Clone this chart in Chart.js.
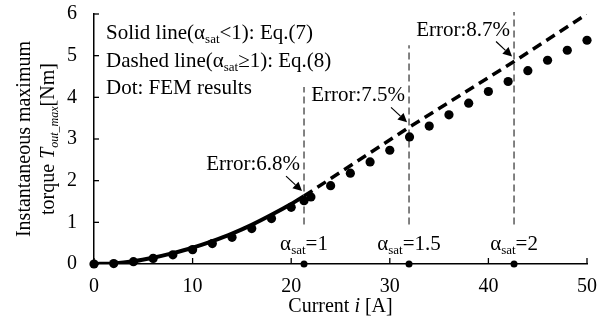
<!DOCTYPE html>
<html>
<head>
<meta charset="utf-8">
<script src="https://cdn.jsdelivr.net/npm/chart.js@4.4.0/dist/chart.umd.min.js"></script>
<style>
  html, body { margin: 0; padding: 0; background: #fff; }
  canvas { display: block; }
</style>
</head>
<body>
<canvas id="c" width="608" height="327"></canvas>
<script>
// FEM results: instantaneous maximum torque vs current
const femCurrent = [0, 2, 4, 6, 8, 10, 12, 14, 16, 18, 20, 21.3, 22, 24, 26, 28, 30, 32, 34, 36, 38, 40, 42, 44, 46, 48, 50];
const femTorque  = [0, 0.01, 0.055, 0.135, 0.22, 0.345, 0.49, 0.64, 0.85, 1.09, 1.36, 1.52, 1.61, 1.88, 2.18, 2.45, 2.73, 3.05, 3.31, 3.58, 3.86, 4.14, 4.38, 4.64, 4.89, 5.13, 5.37];

// Eq.(7), valid below saturation (alpha_sat < 1)
const eq7Current = [0, 2, 4, 6, 8, 10, 12, 14, 16, 18, 20, 21.3];
const eq7Torque  = [0, 0.015, 0.065, 0.15, 0.26, 0.39, 0.55, 0.73, 0.94, 1.18, 1.44, 1.63];

// Eq.(8), valid in saturation (alpha_sat >= 1)
const eq8Current = [21.3, 31.95, 42.6, 50];
const eq8Torque  = [1.63, 3.28, 4.86, 6.0];

// Saturation markers
const alphaSat     = ['1', '1.5', '2'];
const alphaCurrent = [21.3, 31.95, 42.6];
const markerTop    = [4.25, 5.25, 6.05];
const markerBottom = 0.95;
const errorText    = ['Error:6.8%', 'Error:7.5%', 'Error:8.7%'];

// Axis ticks
const xTicks = [0, 10, 20, 30, 40, 50];
const yTicks = [0, 1, 2, 3, 4, 5, 6];

const SERIF = "'Liberation Serif', 'Times New Roman', serif";
const FS = 20;   // tick labels and axis titles
const NS = 21;   // notes inside the plot

function pts(xs, ys) { return xs.map((x, i) => ({ x: x, y: ys[i] })); }

// draw a run of text pieces: {t, it (italic), sub (subscript)}
function drawRich(ctx, parts, x, y, align, size) {
  const subSize = Math.round(size * 0.62);
  const fontOf = p => (p.it ? 'italic ' : '') + (p.sub ? subSize : size) + 'px ' + SERIF;
  let w = 0;
  parts.forEach(p => { ctx.font = fontOf(p); w += ctx.measureText(p.t).width; });
  let cx = align === 'center' ? x - w / 2 : align === 'right' ? x - w : x;
  ctx.textAlign = 'left';
  ctx.textBaseline = 'alphabetic';
  parts.forEach(p => {
    ctx.font = fontOf(p);
    ctx.fillText(p.t, cx, y + (p.sub ? size * 0.2 : 0));
    cx += ctx.measureText(p.t).width;
  });
}

function arrow(ctx, x0, y0, x1, y1) {
  const a = Math.atan2(y1 - y0, x1 - x0);
  const hl = 9, hw = 4.5;
  const bx = x1 - hl * Math.cos(a), by = y1 - hl * Math.sin(a);
  ctx.beginPath();
  ctx.moveTo(x0, y0);
  ctx.lineTo(bx, by);
  ctx.lineWidth = 1.2;
  ctx.strokeStyle = '#000';
  ctx.stroke();
  ctx.beginPath();
  ctx.moveTo(x1, y1);
  ctx.lineTo(bx + hw * Math.sin(a), by - hw * Math.cos(a));
  ctx.lineTo(bx - hw * Math.sin(a), by + hw * Math.cos(a));
  ctx.closePath();
  ctx.fillStyle = '#000';
  ctx.fill();
}

const decorations = {
  id: 'decorations',
  afterDraw(chart) {
    const ctx = chart.ctx;
    const xs = chart.scales.x, ys = chart.scales.y;
    const x0 = xs.getPixelForValue(0), y0 = ys.getPixelForValue(0);
    ctx.save();
    ctx.fillStyle = '#000';

    // inward tick marks
    ctx.strokeStyle = '#000';
    ctx.lineWidth = 1.3;
    yTicks.forEach(v => {
      const py = ys.getPixelForValue(v);
      ctx.beginPath(); ctx.moveTo(x0, py); ctx.lineTo(x0 + 5, py); ctx.stroke();
    });
    xTicks.forEach(v => {
      const px = xs.getPixelForValue(v);
      ctx.beginPath(); ctx.moveTo(px, y0); ctx.lineTo(px, y0 - 6); ctx.stroke();
    });

    // notes in the upper-left corner
    const lx = x0 + 12, ly = ys.getPixelForValue(6);
    drawRich(ctx, [{ t: 'Solid line(α' }, { t: 'sat', sub: true }, { t: '<1): Eq.(7)' }], lx, ly + 25, 'left', NS);
    drawRich(ctx, [{ t: 'Dashed line(α' }, { t: 'sat', sub: true }, { t: '≥1): Eq.(8)' }], lx, ly + 53, 'left', NS);
    drawRich(ctx, [{ t: 'Dot: FEM results' }], lx, ly + 80, 'left', NS);

    // saturation labels, error notes and arrows
    alphaCurrent.forEach((c, k) => {
      const px = xs.getPixelForValue(c);
      drawRich(ctx, [{ t: 'α' }, { t: 'sat', sub: true }, { t: '=' + alphaSat[k] }], px, y0 - 14, 'center', NS);
      const py = ys.getPixelForValue(eq8Torque[k]);
      drawRich(ctx, [{ t: errorText[k] }], px - 4, py - 26, 'right', NS);
      arrow(ctx, px - 18, py - 20, px - 2, py - 5);
    });

    // axis titles
    const area = chart.chartArea;
    drawRich(ctx, [{ t: 'Current ' }, { t: 'i', it: true }, { t: ' [A]' }], (area.left + area.right) / 2, 312, 'center', FS);
    ctx.translate(0, (area.top + area.bottom) / 2);
    ctx.rotate(-Math.PI / 2);
    drawRich(ctx, [{ t: 'Instantaneous maximum' }], 0, 30, 'center', FS);
    drawRich(ctx, [{ t: 'torque ' }, { t: 'T', it: true }, { t: 'out_max', it: true, sub: true }, { t: '[Nm]' }], 0, 54, 'center', FS);
    ctx.restore();
  }
};

const markerSets = alphaCurrent.map((c, k) => ({
  data: [{ x: c, y: markerBottom }, { x: c, y: markerTop[k] }],
  showLine: true,
  borderColor: '#404040',
  borderWidth: 1.3,
  borderDash: [7, 4],
  pointRadius: 0,
  clip: false,
  order: 10
}));

new Chart(document.getElementById('c'), {
  type: 'scatter',
  data: {
    datasets: [
      ...markerSets,
      {
        data: pts(eq7Current, eq7Torque),
        showLine: true,
        borderColor: '#000',
        borderWidth: 4,
        pointRadius: 0,
        tension: 0.3,
        order: 5
      },
      {
        data: pts(eq8Current, eq8Torque),
        showLine: true,
        borderColor: '#000',
        borderWidth: 3.5,
        borderDash: [10, 6],
        pointRadius: 0,
        order: 4
      },
      {
        data: pts(femCurrent, femTorque),
        showLine: false,
        pointRadius: 4.6,
        pointBackgroundColor: '#000',
        pointBorderWidth: 0,
        clip: false,
        order: 1
      },
      {
        data: alphaCurrent.map(c => ({ x: c, y: 0 })),
        showLine: false,
        pointRadius: 3.5,
        pointBackgroundColor: '#000',
        pointBorderWidth: 0,
        clip: false,
        order: 0
      }
    ]
  },
  options: {
    responsive: false,
    animation: false,
    devicePixelRatio: 1,
    layout: { padding: { left: 0, right: 21, top: 14, bottom: 0 } },
    plugins: { legend: { display: false }, tooltip: { enabled: false } },
    scales: {
      x: {
        type: 'linear',
        min: 0, max: 50,
        afterFit: s => { s.height = 63; s.paddingLeft = 0; s.paddingRight = 0; },
        afterBuildTicks: s => { s.ticks = xTicks.map(v => ({ value: v })); },
        grid: { display: true, drawOnChartArea: false, drawTicks: false },
        border: { display: true, color: '#000', width: 1.5 },
        ticks: { color: '#000', padding: 11, font: { family: SERIF, size: FS } }
      },
      y: {
        type: 'linear',
        min: 0, max: 6,
        afterFit: s => { s.width = 94; s.paddingTop = 0; s.paddingBottom = 0; },
        afterBuildTicks: s => { s.ticks = yTicks.map(v => ({ value: v })); },
        grid: { display: true, drawOnChartArea: false, drawTicks: false },
        border: { display: true, color: '#000', width: 1.5 },
        ticks: { color: '#000', padding: 17, font: { family: SERIF, size: FS } }
      }
    }
  },
  plugins: [decorations]
});
</script>
</body>
</html>
